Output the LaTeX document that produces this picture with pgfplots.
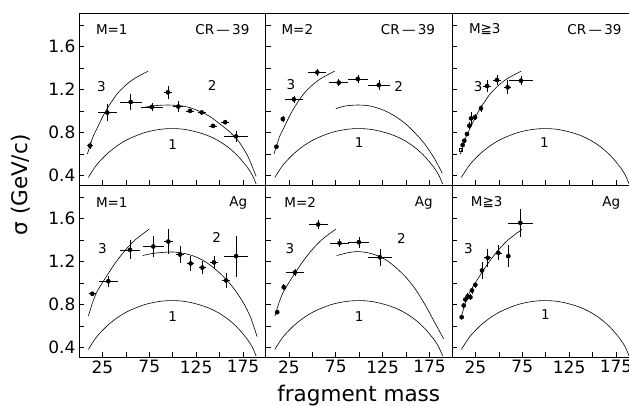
\documentclass[border=0pt]{standalone}
\usepackage{fontspec}
\setmainfont{DejaVu Sans}
\usepackage{pgfplots}
\usepackage{pgfplotstable}
\pgfplotsset{compat=1.18}
\usepgfplotslibrary{groupplots}

% data points: x y ex ey
\pgfplotstableread{
x y ex ey
11.7 0.676 3 0.03
30.2 0.983 10 0.08
55.2 1.082 11.5 0.07
77.8 1.036 11.5 0.04
94.8 1.172 4.4 0.06
106 1.040 5.3 0.05
118.5 1.000 3.9 0.02
131 0.985 4 0.02
143 0.860 4.3 0.02
156 0.894 4 0.02
167.6 0.762 13 0.05
}\crA
\pgfplotstableread{
x y ex ey
11.7 0.666 1 0.02
18.5 0.924 1 0.03
30.2 1.107 9.6 0.03
55.2 1.358 9.8 0.03
78.2 1.262 10.3 0.03
98.5 1.296 11 0.04
120.9 1.240 11.5 0.045
}\crB
\pgfplotstableread{
x y ex ey
11.4 0.682 1 0.02
13.1 0.722 1 0.02
16.0 0.784 1 0.02
18.5 0.862 1 0.03
20.3 0.930 2 0.06
24.5 0.940 2 0.03
30.9 1.023 2 0.03
37.4 1.231 4 0.06
48.0 1.287 4 0.05
59.4 1.219 4 0.065
73.6 1.280 12.5 0.04
}\crC
\pgfplotstableread{
x y ex ey
14.2 0.898 4 0.02
31.3 1.015 10 0.05
54.4 1.307 10.7 0.09
79.3 1.338 11.5 0.10
95.3 1.384 5 0.12
107.8 1.263 4 0.08
119.2 1.180 4 0.07
131.6 1.142 4 0.06
144.0 1.190 4 0.06
156.9 1.022 4 0.07
167.6 1.248 13 0.19
}\agA
\pgfplotstableread{
x y ex ey
12.5 0.727 1 0.02
19.5 0.959 1 0.03
31.3 1.096 9.8 0.03
56.2 1.543 10 0.045
79.0 1.369 10 0.04
99.6 1.378 11.2 0.05
122.0 1.238 13 0.078
}\agB
\pgfplotstableread{
x y ex ey
10.3 0.680 1 0.02
12.5 0.789 1 0.02
14.2 0.845 1 0.02
16.7 0.873 1 0.03
19.6 0.866 1 0.03
21.3 0.929 1 0.03
24.9 0.981 2 0.03
32.0 1.115 2 0.08
38.1 1.233 4 0.085
49.4 1.279 4 0.07
60.1 1.248 2 0.10
72.9 1.558 13 0.13
}\agC

\pgfplotsset{
  dat/.style={only marks, mark=*, mark size=2.1pt, black,
    error bars/.cd, x dir=both, x explicit, y dir=both, y explicit,
    error mark=none, error bar style={line width=0.6pt}},
  curve/.style={black, line width=0.6pt, smooth, no marks},
}
\tikzset{lbl/.style={font=\fontsize{13.5}{13.5}\selectfont}}

\newcommand{\curveone}{\addplot[curve] coordinates {
(10,0.38) (15,0.45) (20,0.51) (30,0.60) (40,0.67) (50,0.725) (60,0.765)
(70,0.797) (80,0.818) (90,0.831) (100,0.835) (110,0.830) (120,0.815)
(130,0.792) (140,0.760) (150,0.715) (160,0.655) (170,0.575) (180,0.47)
(185,0.40) (189,0.32)};}
\newcommand{\curvethreetop}{\addplot[curve] coordinates {
(9,0.60) (12,0.68) (15,0.76) (20,0.85) (25,0.94) (30,1.02) (40,1.15)
(50,1.24) (60,1.305) (74,1.37)};}
\newcommand{\curvethreebot}{\addplot[curve] coordinates {
(10,0.69) (15,0.83) (20,0.93) (30,1.07) (40,1.20) (50,1.31) (60,1.40)
(75,1.50)};}

\begin{document}
\begin{tikzpicture}
\begin{groupplot}[
  group style={group size=3 by 2, horizontal sep=0pt, vertical sep=0pt,
    xticklabels at=edge bottom, yticklabels at=edge left},
  scale only axis, width=186.5pt, height=172pt,
  xmin=0, xmax=199, ymin=0.31, ymax=1.91,
  xtick={25,75,125,175}, minor xtick={50,100,150},
  ytick={0.4,0.8,1.2,1.6}, minor ytick={0.6,1.0,1.4,1.8},
  xtick pos=bottom, ytick pos=left, tick align=inside,
  major tick length=5pt, minor tick length=5pt,
  axis line style={line width=0.8pt}, tick style={line width=0.6pt, black},
  ticklabel style={font=\fontsize{17}{17}\selectfont},
  /pgf/number format/assume math mode=true,
  yticklabel style={/pgf/number format/fixed, /pgf/number format/fixed zerofill,
    /pgf/number format/precision=1},
]
% M=1, CR-39
\nextgroupplot
\curveone
\curvethreetop
\addplot[curve] coordinates {(68,1.03) (80,1.047) (95,1.054) (110,1.045)
 (120,1.025) (130,0.99) (140,0.945) (150,0.88) (160,0.81) (170,0.72)
 (180,0.58) (189,0.39)};
\addplot[dat] table[x=x, y=y, x error=ex, y error=ey] {\crA};
\node[lbl] at (axis cs:35,1.76) {M=1};
\node[lbl] at (axis cs:153,1.76) {CR\,---\,39};
\node[lbl] at (axis cs:24,1.23) {3};
\node[lbl] at (axis cs:142,1.24) {2};
\node[lbl] at (axis cs:100,0.69) {1};
% M=2, CR-39
\nextgroupplot
\curveone
\curvethreetop
\addplot[curve] coordinates {(75,1.02) (85,1.045) (98,1.054) (110,1.047)
 (120,1.025) (130,0.99) (140,0.94) (150,0.875) (160,0.79) (170,0.69)
 (180,0.56) (188.6,0.42)};
\addplot[dat] table[x=x, y=y, x error=ex, y error=ey] {\crB};
\node[lbl] at (axis cs:34,1.76) {M=2};
\node[lbl] at (axis cs:152,1.76) {CR\,---\,39};
\node[lbl] at (axis cs:27,1.24) {3};
\node[lbl] at (axis cs:142,1.225) {2};
\node[lbl] at (axis cs:100,0.70) {1};
% M>=3, CR-39
\nextgroupplot
\curveone
\curvethreetop
\addplot[only marks, mark=square, mark size=1.6pt, black] coordinates {(9.6,0.636)};
\addplot[dat] table[x=x, y=y, x error=ex, y error=ey] {\crC};
\node[lbl] at (axis cs:35,1.76) {M≧3};
\node[lbl] at (axis cs:152,1.76) {CR\,---\,39};
\node[lbl] at (axis cs:28,1.23) {3};
\node[lbl] at (axis cs:98.5,0.70) {1};
% M=1, Ag
\nextgroupplot
\curveone
\curvethreebot
\addplot[curve] coordinates {(68,1.254) (80,1.275) (100,1.287) (115,1.268)
 (125,1.24) (135,1.195) (145,1.13) (155,1.05) (165,0.95) (175,0.82)
 (183,0.68) (190,0.50)};
\addplot[dat] table[x=x, y=y, x error=ex, y error=ey] {\agA};
\node[lbl] at (axis cs:35,1.75) {M=1};
\node[lbl] at (axis cs:170,1.74) {Ag};
\node[lbl] at (axis cs:25,1.32) {3};
\node[lbl] at (axis cs:147,1.42) {2};
\node[lbl] at (axis cs:100,0.69) {1};
% M=2, Ag
\nextgroupplot
\curveone
\curvethreebot
\addplot[curve] coordinates {(76,1.254) (88,1.28) (98,1.291) (110,1.278)
 (120,1.25) (130,1.205) (140,1.135) (150,1.05) (160,0.94) (170,0.80)
 (180,0.64) (190,0.48)};
\addplot[dat] table[x=x, y=y, x error=ex, y error=ey] {\agB};
\node[lbl] at (axis cs:37,1.75) {M=2};
\node[lbl] at (axis cs:169,1.74) {Ag};
\node[lbl] at (axis cs:26,1.32) {3};
\node[lbl] at (axis cs:145,1.41) {2};
\node[lbl] at (axis cs:100,0.69) {1};
% M>=3, Ag
\nextgroupplot
\curveone
\curvethreebot
\addplot[dat] table[x=x, y=y, x error=ex, y error=ey] {\agC};
\node[lbl] at (axis cs:37,1.75) {M≧3};
\node[lbl] at (axis cs:170,1.74) {Ag};
\node[lbl] at (axis cs:17.4,1.32) {3};
\node[lbl] at (axis cs:99.6,0.70) {1};
\end{groupplot}
\node[anchor=base, font=\fontsize{21.5}{21.5}\selectfont]
  at ([yshift=-45pt]group c2r2.south) {fragment mass};
\node[rotate=90, font=\fontsize{21.5}{21.5}\selectfont]
  at ([xshift=-58pt]group c1r2.north west) {σ (GeV/c)};
\pgfresetboundingbox
\path[use as bounding box] ([shift={(-79pt,13pt)}]group c1r1.north west)
  rectangle ([shift={(550pt,-393pt)}]group c1r1.north west);
\end{tikzpicture}
\end{document}
